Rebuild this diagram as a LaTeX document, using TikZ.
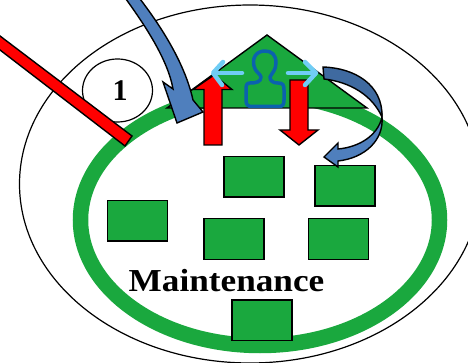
\documentclass[tikz,border=0pt]{standalone}
\usepackage{fontspec}
\setmainfont{Liberation Serif}
\newfontfamily\wideserif[FakeStretch=1.1]{Liberation Serif}
\usetikzlibrary{shapes.geometric}
\definecolor{grn}{HTML}{1AA83E}
\definecolor{blu}{HTML}{4F7FBD}
\definecolor{dblu}{HTML}{3F6AA0}
\definecolor{lblu}{HTML}{70CDF5}
\definecolor{pblu}{HTML}{0B62AE}
\tikzset{
 box/.style={draw=black,fill=grn,line width=1.5pt,minimum width=60pt,minimum height=40.5pt,inner sep=0pt},
 redarrow/.style={draw=black,fill=red,line width=1.4pt,line join=miter},
 bluearrow/.style={draw=black,fill=blu,line width=1.4pt,line join=miter},
 ltarrow/.style={draw=lblu,line width=4.5pt,line cap=round,line join=round}
}
\begin{document}
\begin{tikzpicture}[x=1pt,y=-1pt]
\useasboundingbox (0,0) rectangle (468,363);
\begin{scope}
\clip (0,0) rectangle (468,363);
\draw[line width=1.2pt] (250,184) ellipse [x radius=230.5,y radius=179];
\draw[grn,line width=15.5pt] (260,220) ellipse [x radius=179.5,y radius=125.5];
\fill[grn,draw=black,line width=1.4pt] (167,108) -- (267,35) -- (367,108) -- cycle;
\node[box] (b1) at (254,177) {};
\node[box] (b2) at (345,186) {};
\node[box] (b3) at (137.5,221) {};
\node[box] (b4) at (234,239) {};
\node[box] (b5) at (338.5,239) {};
\node[box] (b6) at (262,320) {};
\node[anchor=base,inner sep=0pt,font=\wideserif\bfseries\fontsize{32}{34}\selectfont] (m) at (226.5,291) {Maintenance};
\node[draw=black,fill=white,line width=1.2pt,ellipse,minimum width=70pt,minimum height=63pt,inner sep=0pt,font=\bfseries\fontsize{30}{32}\selectfont] (n1) at (117.5,90.5) {\hspace*{5pt}1};
\draw[redarrow] (-10,28.4) -- (132,136) -- (125,146) -- (-10,42.3) -- cycle;
\draw[redarrow] (204,145) -- (204,89.5) -- (193,89.5) -- (214,75) -- (232,89.5) -- (222,89.5) -- (222,145) -- cycle;
\draw[redarrow] (290,80) -- (308,80) -- (308,130) -- (318,130) -- (299,145) -- (280,130) -- (290,130) -- cycle;
\draw[bluearrow] (137,-5) .. controls (150,12) and (183,55) .. (193,100) -- (203,112) -- (177,123) -- (163,82) -- (173,89) .. controls (168,60) and (145,25) .. (123,-5) -- cycle;
\draw[draw=black,fill=dblu,line width=1.4pt] (323,67) .. controls (355,68) and (383,85) .. (382,117) .. controls (372,95) and (350,82) .. (324,79) -- cycle;
\draw[bluearrow] (382,117) .. controls (378,135) and (360,147) .. (338,149) -- (338,143) -- (324,157) -- (338,167) -- (338,161) .. controls (365,158) and (384,140) .. (382,117) -- cycle;
\draw[pblu,line width=3.5pt,line join=round] (265,51) .. controls (256,51) and (252,58) .. (254,66) .. controls (255,72) and (260,73) .. (261,77) .. controls (261,82) and (256,83) .. (250,83) .. controls (246,83) and (246,86) .. (246,90) -- (246,100) .. controls (246,105) and (248,106.5) .. (252,106.5) -- (279,106.5) .. controls (283,106.5) and (284,104) .. (284,100) -- (284,90) .. controls (284,85) and (283,83) .. (278,83) .. controls (273,83) and (270,81) .. (270,77) .. controls (272,73) and (276,70) .. (276,63) .. controls (276,55) and (272,51) .. (265,51) -- cycle;
\draw[ltarrow] (242,73) -- (215,73);
\draw[ltarrow] (223,62) -- (213,73) -- (222,85);
\draw[ltarrow] (288,73) -- (315,73);
\draw[ltarrow] (305,62) -- (316,73) -- (305,85);
\end{scope}
\end{tikzpicture}
\end{document}
